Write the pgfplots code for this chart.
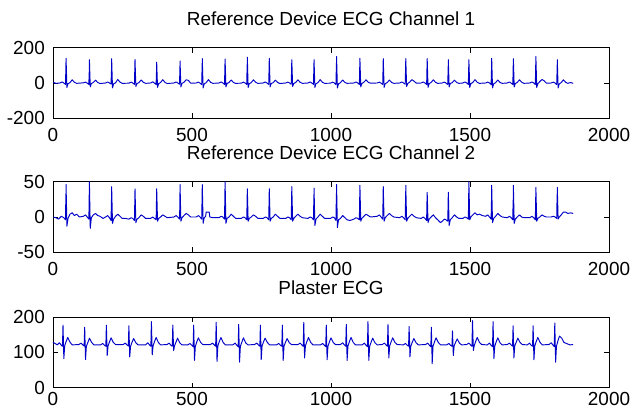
\documentclass[border=0pt]{standalone}
\usepackage{pgfplots}
\pgfplotsset{compat=1.18}
\usepackage{fontspec}
\setmainfont{Liberation Sans}
\definecolor{ecgblue}{RGB}{0,0,200}

\pgfplotsset{
  ecgpanel/.style={
    width=556bp, height=70.6bp, scale only axis,
    xmin=0, xmax=2000,
    xtick={0,500,1000,1500,2000},
    xticklabels={0,500,1000,1500,2000},
    tick align=inside,
    major tick length=5bp,
    minor tick num=0,
    axis line style={line width=0.8bp},
    every tick/.style={black, line width=0.8bp},
    tick label style={font=\fontsize{19}{22}\selectfont, inner sep=0pt},
    yticklabel style={xshift=-8bp},
    title style={font=\fontsize{19}{22}\selectfont, at={(0.5,1)}, anchor=base, yshift=16.5bp, inner sep=0pt},
  },
  ecgline/.style={ecgblue, line width=0.95bp, line join=round},
}

\begin{document}
\begin{tikzpicture}
\useasboundingbox (0,0) rectangle (630bp,-411bp);

% channel 1
\begin{axis}[ecgpanel, at={(53bp,-47.7bp)}, anchor=north west,
  ymin=-200, ymax=200, ytick={-200,0,200}, yticklabels={-200,0,200},
  xticklabel style={yshift=-10bp},
  title={Reference Device ECG Channel 1}]
\addplot[ecgline] coordinates {
(0,5)(10,-2)(25,0)(33,6)(39,0)(45,-8)(47,140)(50,-25)(54,-4)(61,2)(69,18)(77,4)(85,-2)
(109,1)(117,5)(123,-1)(129,-8)(130,60)(130,20)(131,132)(134,-22)(138,-3)(145,3)(153,16)(161,3)(169,-3)
(189,0)(197,6)(203,0)(209,-6)(210,70)(210,25)(211,138)(214,-28)(218,-5)(225,1)(233,20)(241,5)(249,-2)
(273,-1)(281,5)(287,0)(293,-8)(295,134)(298,-20)(302,-3)(309,2)(317,17)(325,4)(333,-2)
(351,0)(359,7)(365,-1)(371,-8)(372,60)(372,20)(373,118)(376,-25)(380,-4)(387,3)(395,19)(403,3)(411,-3)
(435,0)(443,6)(449,0)(455,-7)(456,50)(456,15)(457,125)(460,-22)(464,-2)(471,4)(479,18)(487,15)(495,-1)
(515,0)(523,5)(529,-1)(535,-9)(536,70)(536,25)(537,138)(540,-28)(544,-5)(551,2)(559,19)(567,4)(575,-2)
(597,0)(605,6)(611,0)(617,-8)(619,136)(622,-22)(626,-3)(633,3)(641,17)(649,3)(657,-2)
(677,-1)(685,5)(691,0)(697,-8)(698,80)(698,30)(699,146)(702,-25)(706,-4)(713,2)(721,18)(729,4)(737,-2)
(756,0)(764,6)(770,-1)(776,-8)(778,140)(781,-22)(785,-3)(792,2)(800,16)(808,3)(816,-3)
(837,0)(845,5)(851,0)(857,-7)(859,132)(862,-20)(866,-3)(873,3)(881,18)(889,4)(897,-2)
(917,0)(925,6)(931,0)(937,-8)(939,132)(942,-25)(946,-4)(953,2)(961,19)(969,4)(977,-2)
(998,-1)(1006,5)(1012,0)(1018,-9)(1019,80)(1019,30)(1020,150)(1023,-28)(1027,-5)(1034,2)(1042,17)(1050,3)(1058,-2)
(1082,0)(1090,6)(1096,0)(1102,-8)(1104,140)(1107,-22)(1111,-3)(1118,4)(1126,18)(1134,4)(1142,-1)
(1166,0)(1174,5)(1180,-1)(1186,-8)(1188,138)(1191,-25)(1195,-4)(1202,2)(1210,17)(1218,3)(1226,-2)
(1247,0)(1255,6)(1261,0)(1267,-7)(1269,138)(1272,-20)(1276,-3)(1283,5)(1291,19)(1299,10)(1307,-1)
(1324,0)(1332,6)(1338,0)(1344,-8)(1346,138)(1349,-25)(1353,-4)(1360,3)(1368,18)(1376,4)(1384,-2)
(1400,0)(1408,5)(1414,-1)(1420,-8)(1421,60)(1421,20)(1422,132)(1425,-22)(1429,-3)(1436,2)(1444,16)(1452,3)(1460,-2)
(1474,0)(1482,6)(1488,0)(1494,-8)(1496,132)(1499,-25)(1503,-4)(1510,3)(1518,19)(1526,4)(1534,-2)
(1556,0)(1564,5)(1570,0)(1576,-9)(1577,70)(1577,25)(1578,140)(1581,-28)(1585,-5)(1592,2)(1600,17)(1608,3)(1616,-2)
(1634,0)(1642,6)(1648,-1)(1654,-8)(1656,138)(1659,-22)(1663,-3)(1670,3)(1678,18)(1686,4)(1694,-2)
(1715,0)(1723,6)(1729,0)(1735,-8)(1737,150)(1740,-25)(1744,-4)(1751,8)(1759,20)(1767,12)(1775,-1)
(1792,0)(1800,5)(1806,0)(1812,-9)(1813,60)(1813,20)(1814,132)(1817,-28)(1821,-5)(1828,2)(1836,18)(1844,4)(1852,-2)
(1862,3)(1871,-2)
};
\end{axis}

% channel 2
\begin{axis}[ecgpanel, at={(53bp,-181.7bp)}, anchor=north west,
  ymin=-50, ymax=50, ytick={-50,0,50}, yticklabels={-50,0,50},
  xticklabel style={yshift=-10bp},
  title={Reference Device ECG Channel 2}]
\addplot[ecgline] coordinates {
(0,0)(10,-1)(20,-3)(30,1)(39,-1)(45,-4)(46,24)(46,8)(47,46)(50,-13)(54,-2)(61,4)(69,6)(77,2)(85,4)(95,0)
(109,1)(117,3)(123,0)(129,-3)(131,50)(134,-16)(138,-1)(145,3)(153,5)(161,2)(169,1)(180,-2)
(189,0)(197,2)(203,-1)(209,-5)(210,25)(210,8)(211,43)(214,-9)(218,-3)(225,1)(233,4)(241,1)(249,-2)(260,-2)
(273,-3)(281,-1)(287,-2)(293,-5)(295,40)(298,-8)(302,-3)(309,-1)(317,3)(325,1)(333,-2)
(351,-2)(359,0)(365,-2)(371,-4)(373,40)(376,-6)(380,-2)(387,0)(395,3)(403,1)(411,-1)
(435,0)(443,2)(449,0)(455,-3)(456,12)(456,2)(457,46)(460,-6)(464,-1)(471,2)(479,5)(487,3)(495,0)
(515,0)(523,2)(529,0)(535,-3)(537,46)(540,-9)(544,-1)(549,1)(551,7)(562,7)(564,0)(575,-1)
(597,-1)(605,1)(611,0)(617,-3)(619,50)(622,-9)(626,-2)(633,0)(641,4)(649,1)(657,-2)
(677,-2)(685,0)(691,-1)(697,-4)(699,40)(702,-6)(706,-2)(713,0)(721,3)(729,1)(737,-2)
(756,-2)(764,0)(770,-1)(776,-4)(778,40)(781,-6)(785,-2)(792,0)(800,4)(808,1)(816,-2)
(837,-2)(845,0)(851,-1)(857,-4)(859,43)(862,-6)(866,-2)(873,1)(881,4)(889,1)(897,-1)
(917,-2)(925,0)(931,-1)(937,-4)(938,20)(938,5)(939,41)(942,-12)(946,-3)(953,0)(961,4)(969,1)(977,-2)
(998,-2)(1006,0)(1012,-1)(1018,-5)(1019,25)(1019,8)(1020,46)(1023,-15)(1027,-4)(1034,-2)(1042,2)(1050,-1)(1058,-4)(1068,-5)
(1082,-3)(1090,-1)(1096,-2)(1102,-4)(1104,45)(1107,-6)(1111,-2)(1118,1)(1126,4)(1134,2)(1142,0)
(1166,1)(1174,3)(1180,0)(1186,-3)(1188,43)(1191,-6)(1195,-1)(1202,2)(1210,5)(1218,2)(1226,0)
(1247,-1)(1255,1)(1261,-1)(1267,-4)(1268,22)(1268,6)(1269,45)(1272,-6)(1276,-2)(1283,1)(1291,4)(1299,1)(1307,-1)
(1324,-2)(1332,0)(1338,-2)(1344,-5)(1345,22)(1345,5)(1346,35)(1349,-8)(1353,-3)(1360,0)(1368,3)(1376,-1)(1384,-4)(1394,-8)
(1400,-6)(1408,-3)(1414,-4)(1420,-6)(1422,35)(1425,-12)(1429,-4)(1436,-1)(1444,3)(1452,0)(1460,-2)
(1474,-2)(1482,0)(1488,-1)(1494,-3)(1496,50)(1499,-4)(1503,0)(1510,3)(1518,6)(1526,3)(1534,4)(1545,2)
(1556,1)(1564,3)(1570,0)(1576,-3)(1577,22)(1577,6)(1578,45)(1581,-8)(1585,-2)(1592,1)(1600,5)(1608,2)(1616,0)
(1634,-1)(1642,1)(1648,-1)(1654,-4)(1655,24)(1655,6)(1656,45)(1659,-9)(1663,-3)(1670,0)(1678,3)(1686,0)(1694,-1)
(1715,-1)(1723,1)(1729,-1)(1735,-4)(1737,42)(1740,-6)(1744,-2)(1751,0)(1759,3)(1767,1)(1775,0)
(1792,0)(1800,1)(1806,0)(1812,-2)(1813,24)(1813,6)(1814,42)(1817,-3)(1821,0)(1828,3)(1836,7)(1844,7)(1852,5)(1862,6)(1871,5)
};
\end{axis}

% plaster
\begin{axis}[ecgpanel, at={(53bp,-317bp)}, anchor=north west,
  ymin=0, ymax=200, ytick={0,100,200}, yticklabels={0,100,200},
  xticklabel style={yshift=-4bp},
  title={Plaster ECG}]
\addplot[ecgline] coordinates {
(0,128)(8,125)(15,121)(23,127)(29,121)(34,117)(36,177)(39,82)(42,118)(47,130)(53,142)(61,129)(69,121)
(93,122)(101,126)(107,121)(112,118)(114,171)(117,79)(120,117)(125,127)(131,140)(139,128)(147,121)
(171,121)(179,125)(185,120)(190,117)(192,177)(195,91)(198,118)(203,129)(209,141)(217,128)(225,122)
(252,122)(260,126)(266,121)(271,118)(273,175)(276,87)(279,117)(284,128)(290,139)(298,127)(306,121)
(333,121)(341,127)(347,121)(352,117)(354,187)(357,93)(360,118)(365,130)(371,142)(379,128)(387,121)
(410,122)(418,126)(424,120)(429,117)(431,177)(434,105)(437,118)(442,128)(448,140)(456,127)(464,121)
(485,121)(493,125)(499,120)(504,116)(506,177)(509,77)(512,117)(517,129)(523,141)(531,128)(539,122)
(566,122)(574,126)(580,121)(585,117)(587,185)(590,74)(593,118)(598,130)(604,142)(612,128)(620,121)
(647,121)(655,126)(661,120)(666,116)(668,179)(671,72)(674,117)(679,128)(685,141)(693,127)(701,121)
(725,122)(733,126)(739,121)(744,117)(746,177)(749,79)(752,118)(757,129)(763,140)(771,128)(779,121)
(804,121)(812,125)(818,120)(823,117)(825,177)(828,77)(831,117)(836,128)(842,139)(850,127)(858,122)
(881,122)(889,126)(895,121)(900,117)(902,185)(905,84)(908,118)(913,130)(919,142)(927,128)(935,121)
(962,121)(970,125)(976,120)(981,116)(983,177)(986,79)(989,117)(994,129)(1000,141)(1008,128)(1016,122)
(1034,122)(1042,127)(1048,121)(1053,117)(1055,179)(1058,77)(1061,118)(1066,130)(1072,142)(1080,128)(1088,121)
(1112,121)(1120,126)(1126,120)(1131,116)(1133,187)(1136,77)(1139,117)(1144,128)(1150,140)(1158,127)(1166,121)
(1184,122)(1192,126)(1198,121)(1203,117)(1205,179)(1208,84)(1211,118)(1216,129)(1222,141)(1230,128)(1238,122)
(1260,121)(1268,125)(1274,120)(1279,117)(1281,173)(1284,87)(1287,117)(1292,128)(1298,139)(1306,127)(1314,121)
(1340,122)(1348,126)(1354,120)(1359,116)(1361,171)(1364,68)(1367,117)(1372,129)(1378,141)(1386,128)(1394,121)
(1416,121)(1424,125)(1430,120)(1435,117)(1437,161)(1440,91)(1443,118)(1448,128)(1454,138)(1462,126)(1470,121)
(1488,122)(1496,126)(1502,121)(1507,117)(1509,190)(1512,105)(1515,118)(1520,130)(1526,142)(1534,128)(1542,122)
(1562,121)(1570,126)(1576,120)(1581,116)(1583,187)(1586,82)(1589,117)(1594,129)(1600,141)(1608,127)(1616,121)
(1634,122)(1642,126)(1648,121)(1653,117)(1655,175)(1658,84)(1661,118)(1666,128)(1672,140)(1680,128)(1688,122)
(1706,121)(1714,126)(1720,120)(1725,117)(1727,175)(1730,79)(1733,118)(1738,130)(1744,142)(1752,128)(1760,121)
(1784,122)(1792,127)(1798,121)(1803,116)(1805,183)(1808,72)(1811,117)(1816,132)(1822,146)(1830,140)(1838,128)(1850,124)(1860,121)(1871,122)
};
\end{axis}
\end{tikzpicture}
\end{document}
